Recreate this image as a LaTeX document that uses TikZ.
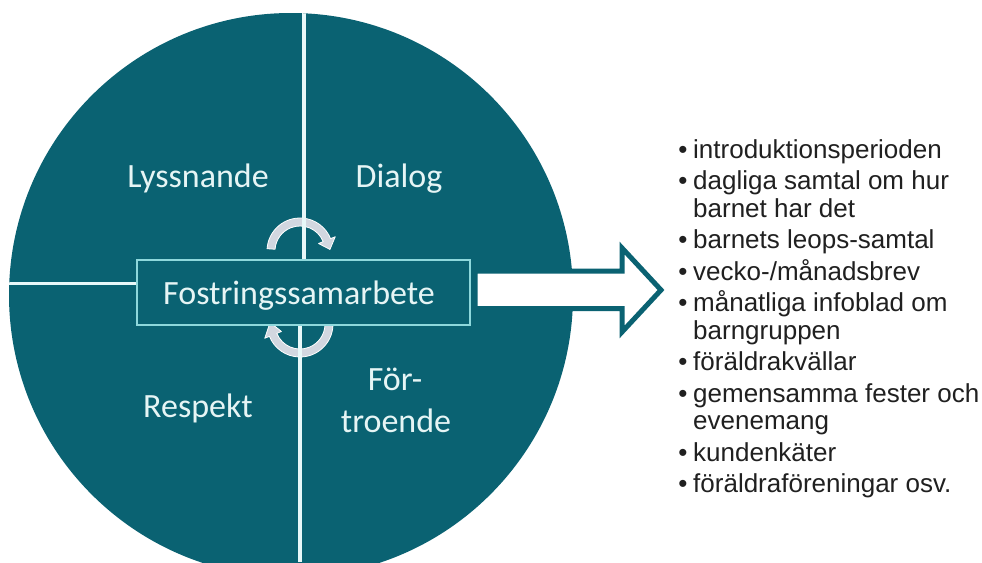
\documentclass[tikz,border=0pt]{standalone}
\usepackage{fontspec}
\setmainfont{Carlito}
\newfontfamily\listfont{Liberation Sans}
\definecolor{tealc}{HTML}{0A6272}
\definecolor{lighttxt}{HTML}{E6F5F5}
\definecolor{boxline}{HTML}{8ED8DC}
\definecolor{divc}{HTML}{E8F8F9}
\definecolor{cyc}{HTML}{D2D7E0}
\definecolor{listc}{HTML}{202020}
\begin{document}
\begin{tikzpicture}[x=1pt,y=-1pt,
  circtxt/.style={text=lighttxt,font=\fontsize{34}{40}\selectfont,anchor=base,inner sep=0pt},
  divline/.style={draw=divc},
  cycarrow/.style={fill=cyc,draw=white,line width=0.8pt,line join=round},
  bulletc/.style={text=listc,font=\listfont\fontsize{26}{28}\selectfont,anchor=base,inner sep=0pt},
  itemtxt/.style={text=listc,font=\listfont\fontsize{26}{28}\selectfont,anchor=base west,inner sep=0pt},
  blockarrow/.style={fill=white,draw=tealc,line width=5pt,line join=miter}]
\useasboundingbox (0,0) rectangle (982,562);
\fill[white] (0,0) rectangle (982,562);
\begin{scope}
  \clip (0,0) rectangle (982,562);
  \fill[tealc] (291,295) circle[radius=282];
\end{scope}
% cycle arrows
\begin{scope}[shift={(300,251)}]
  \filldraw[cycarrow] (-176:33) arc[start angle=-176,end angle=-22,radius=33]
    -- (-22:38) -- (-3:30) -- (-22:20) -- (-22:25)
    arc[start angle=-22,end angle=-176,radius=25] -- cycle;
\end{scope}
\begin{scope}[shift={(300,324)}]
  \filldraw[cycarrow] (2:33) arc[start angle=2,end angle=158,radius=33]
    -- (158:38) -- (183:30) -- (158:20) -- (158:25)
    arc[start angle=158,end angle=2,radius=25] -- cycle;
\end{scope}
% central box
\node[draw=boxline,fill=tealc,line width=1.5pt,minimum width=333pt,minimum height=65pt,inner sep=0pt] (box) at (303.5,292.5) {};
\coordinate (vt) at (303.5,0);
\coordinate (vb) at (300,562);
\coordinate (hl) at (0,283);
\begin{scope}
  \clip (291,295) circle[radius=282];
  \draw[divline,line width=4pt] (vt) -- (box.north);
  \draw[divline,line width=4pt] (vb) -- (vb |- box.south);
  \draw[divline,line width=3pt] (hl) -- (box.west |- hl);
\end{scope}
\node[circtxt] (title) at (299,304) {Fostringssamarbete};
% block arrow
\filldraw[blockarrow] (475,271) -- (622,271) -- (622,248) -- (661,290) -- (622,332) -- (622,308.5) -- (475,308.5) -- cycle;
% quadrant labels
\node[circtxt] (lys) at (198,187) {Lyssnande};
\node[circtxt] (dia) at (399,187) {Dialog};
\node[circtxt] (res) at (198,417) {Respekt};
\node[circtxt] (for1) at (395,390) {För-};
\node[circtxt] (for2) at (396,432) {troende};
% list
\node[bulletc] (b1) at (683,158) {•};
\node[itemtxt] (i1) at (693,158) {introduktionsperioden};
\node[bulletc] (b2) at (683,189.5) {•};
\node[itemtxt] (i2) at (693,189.5) {dagliga samtal om hur};
\node[itemtxt] (i2b) at (693,217) {barnet har det};
\node[bulletc] (b3) at (683,248.5) {•};
\node[itemtxt] (i3) at (693,248.5) {barnets leops-samtal};
\node[bulletc] (b4) at (683,280) {•};
\node[itemtxt] (i4) at (693,280) {vecko-/månadsbrev};
\node[bulletc] (b5) at (683,311.5) {•};
\node[itemtxt] (i5) at (693,311.5) {månatliga infoblad om};
\node[itemtxt] (i5b) at (693,339) {barngruppen};
\node[bulletc] (b6) at (683,370.5) {•};
\node[itemtxt] (i6) at (693,370.5) {föräldrakvällar};
\node[bulletc] (b7) at (683,402) {•};
\node[itemtxt] (i7) at (693,402) {gemensamma fester och};
\node[itemtxt] (i7b) at (693,429.5) {evenemang};
\node[bulletc] (b8) at (683,461) {•};
\node[itemtxt] (i8) at (693,461) {kundenkäter};
\node[bulletc] (b9) at (683,492.5) {•};
\node[itemtxt] (i9) at (693,492.5) {föräldraföreningar osv.};
\end{tikzpicture}
\end{document}
